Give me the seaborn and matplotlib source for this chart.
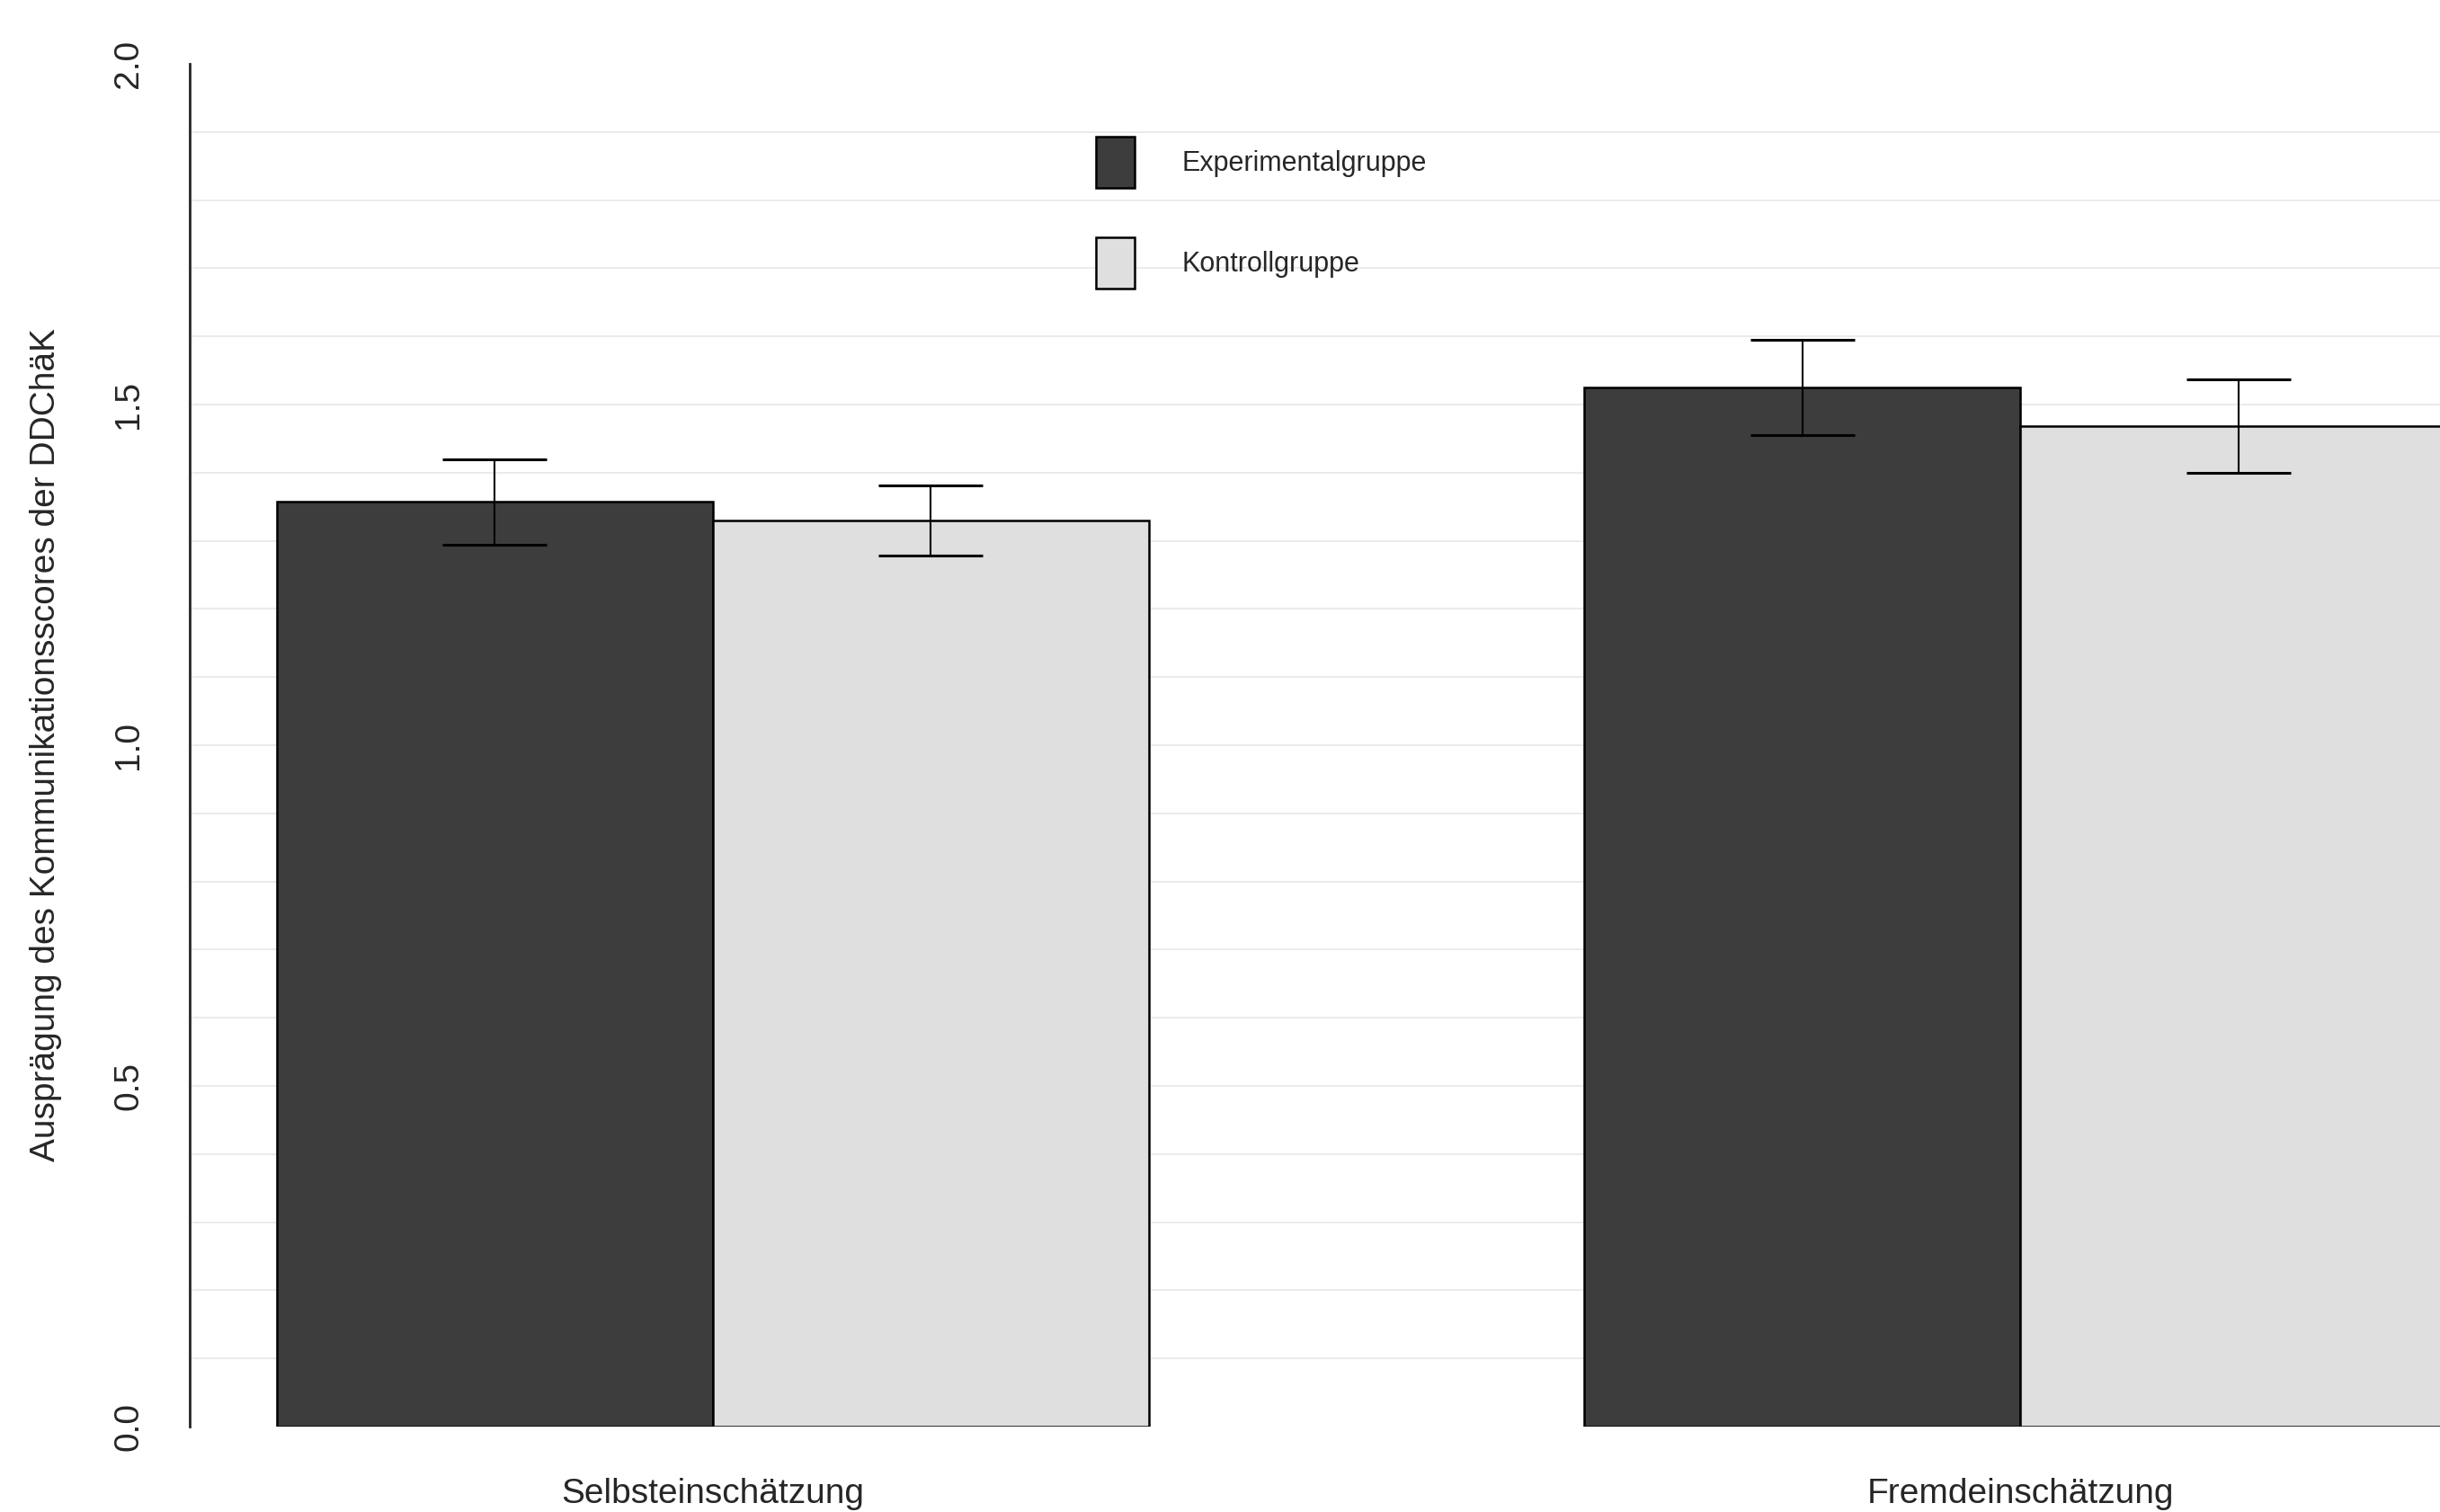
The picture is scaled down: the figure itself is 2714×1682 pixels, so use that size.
import numpy as np
import pandas as pd
import seaborn as sns
import matplotlib.pyplot as plt
from matplotlib.patches import Patch
from matplotlib.ticker import FormatStrFormatter

# Werte
conditions = ["Selbsteinschätzung", "Fremdeinschätzung"]
groups = ["Experimentalgruppe", "Kontrollgruppe"]
exp_means = [1.357, 1.525]
ctrl_means = [1.330, 1.468]
exp_err = [0.063, 0.070]
ctrl_err = [0.0515, 0.0685]
y_ticks = [0.0, 0.5, 1.0, 1.5, 2.0]

colors = {"Experimentalgruppe": "#3d3d3d", "Kontrollgruppe": "#dfdfdf"}

sns.set_style("white")
plt.rcParams['font.family'] = ['Liberation Sans', 'DejaVu Sans']

df = pd.DataFrame({
    "Einschätzung": conditions * 2,
    "Gruppe": [groups[0]] * 2 + [groups[1]] * 2,
    "Mittelwert": exp_means + ctrl_means,
})

fig = plt.figure(figsize=(27.14, 16.82), dpi=100)
ax = fig.add_axes([211 / 2714, 1 - 1587 / 1682, 1 - 211 / 2714, (1587 - 71) / 1682])

# light horizontal grid every 0.1
for v in np.arange(1, 20) / 10:
    ax.axhline(v, color="#ebebeb", lw=1.5, zorder=0)

sns.barplot(data=df, x="Einschätzung", y="Mittelwert", hue="Gruppe",
            order=conditions, hue_order=groups, palette=colors,
            saturation=1, width=2 / 3, errorbar=None,
            edgecolor="black", linewidth=1.8, legend=False, ax=ax, zorder=2)

# error bars on bar centres
for container, errs in zip(ax.containers, [exp_err, ctrl_err]):
    xs = [b.get_x() + b.get_width() / 2 for b in container]
    ys = [b.get_height() for b in container]
    ax.errorbar(xs, ys, yerr=errs, fmt="none", ecolor="black",
                elinewidth=1.5, capsize=42, capthick=2.2, zorder=3)

ax.set_xlim(-0.4, 1.321)
ax.set_ylim(0, 2)
ax.set_yticks(y_ticks)
ax.yaxis.set_major_formatter(FormatStrFormatter("%.1f"))
ax.tick_params(axis="y", length=16, width=2, pad=20, labelsize=28,
               labelrotation=90, color="black")
for lab in ax.get_yticklabels():
    lab.set_va("center")
ax.tick_params(axis="x", length=0, pad=41, labelsize=28)

ax.set_xlabel("")
ax.set_ylabel("Ausprägung des Kommunikationsscores der DDChäK", fontsize=28)
ax.yaxis.set_label_coords(-0.0567, 0.5)

for s in ["top", "right", "bottom"]:
    ax.spines[s].set_visible(False)
ax.spines["left"].set_linewidth(2)
ax.spines["left"].set_bounds(0, 2)

handles = [Patch(facecolor=colors[g], edgecolor="black", linewidth=1.8) for g in groups]
ax.legend(handles, groups, loc="upper left",
          bbox_to_anchor=(1219 / 2714, 1 - 152 / 1682), bbox_transform=fig.transFigure,
          frameon=False, fontsize=22, handlelength=1.4, handleheight=2.47,
          handletextpad=1.73, labelspacing=1.82, borderpad=0, borderaxespad=0)

fig.savefig("out.png", dpi=100)
